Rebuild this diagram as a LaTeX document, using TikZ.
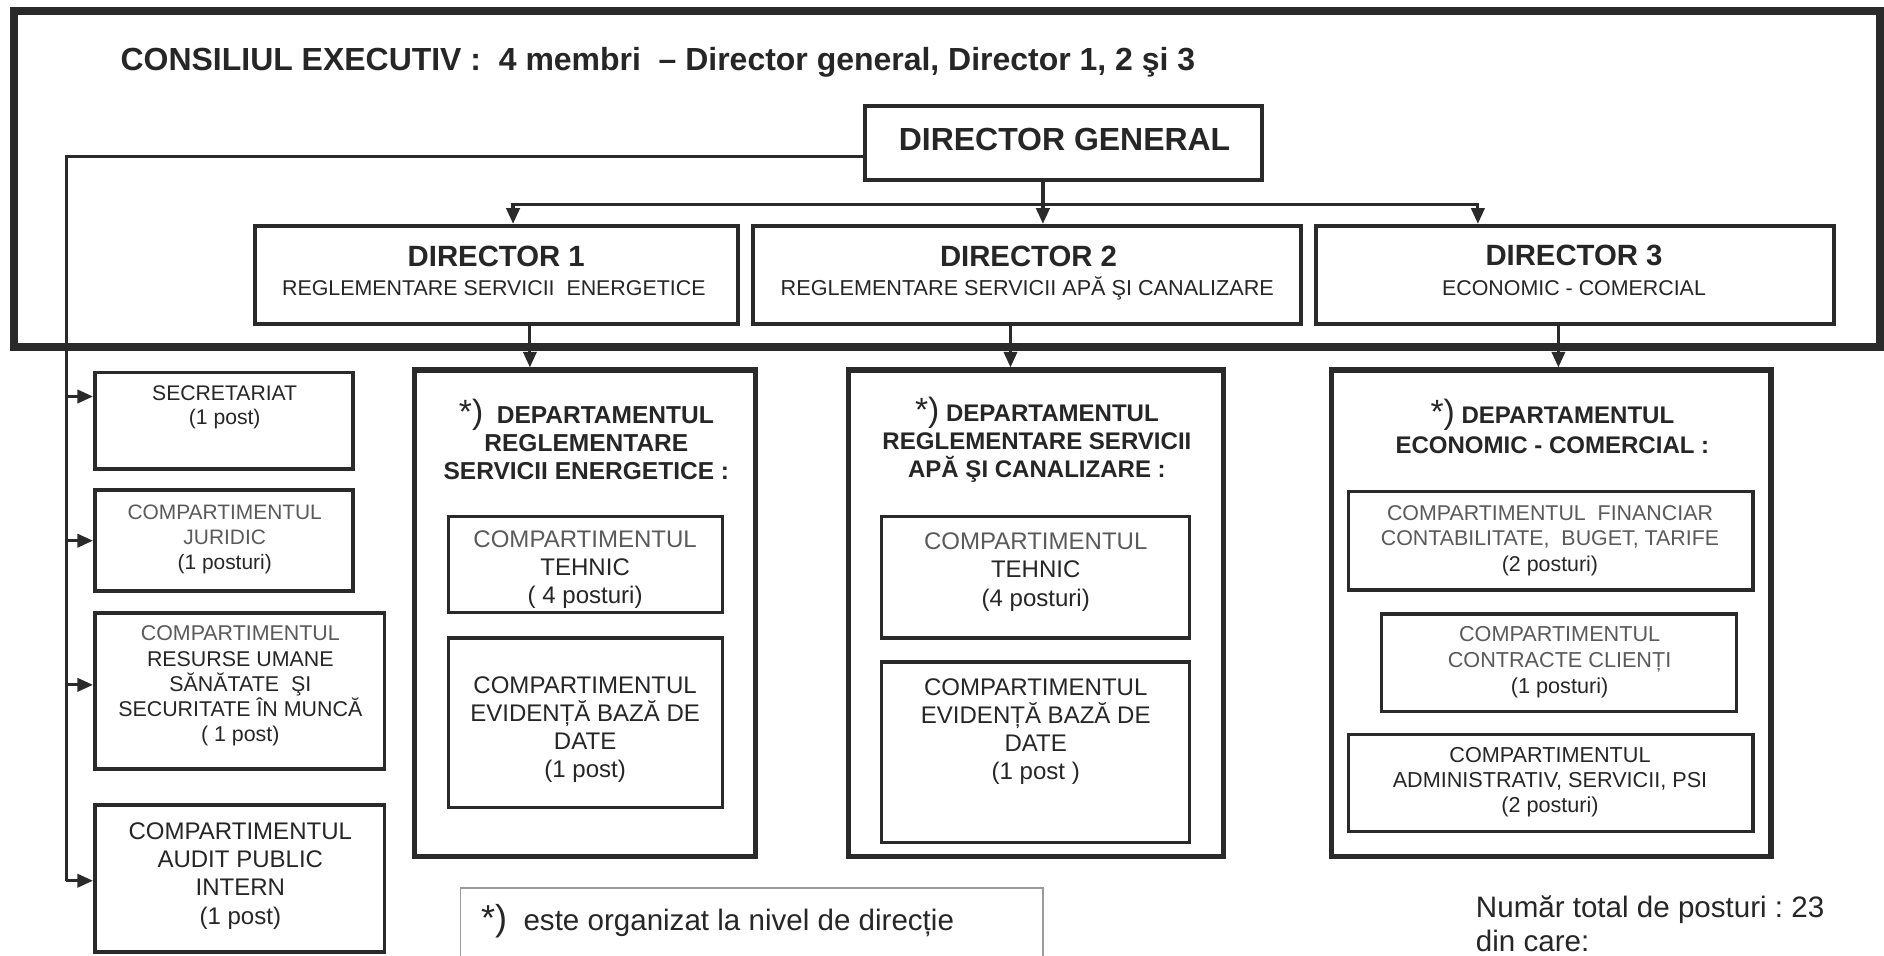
\documentclass[tikz,border=0pt]{standalone}
\usepackage{fontspec}
\setmainfont{Liberation Sans}
\usetikzlibrary{arrows.meta,fit}
\definecolor{ink}{HTML}{262626}
\definecolor{soft}{HTML}{5A5A5A}
\definecolor{lineink}{HTML}{2A2A2A}
\definecolor{notegray}{HTML}{9A9A9A}
\newcommand{\fsz}[2]{\fontsize{#1}{#2}\selectfont}
\newcommand{\starmark}{{\fsz{14}{12}\mdseries *)}}
\frenchspacing
\begin{document}
\begin{tikzpicture}[x=0.5pt,y=-0.5pt,
  boxbase/.style={draw=lineink, inner sep=0pt, rectangle},
  frame/.style={boxbase, line width=3.3pt},
  dgbox/.style={boxbase, line width=1.7pt},
  dirbox/.style={boxbase, line width=1.7pt},
  deptbox/.style={boxbase, line width=2.2pt},
  subbox/.style={boxbase, line width=1.3pt},
  leftbox/.style={boxbase, line width=1.6pt},
  notebox/.style={boxbase, draw=notegray, line width=0.5pt},
  txt/.style={text=ink, align=center, inner sep=0pt},
  conn/.style={draw=lineink, line width=1.3pt},
  arr/.style={conn, -{Triangle[length=6.5pt,width=5.5pt]}}
]
\useasboundingbox (0,0) rectangle (1568,795);
\fill[white] (0,0) rectangle (1568,795);

% outer frame
\node[frame, fit={(12,9) (1565,289)}] (council) {};
\node[txt, anchor=west, font=\bfseries\fsz{13.3}{15}] (title) at (100,52)
  {CONSILIUL EXECUTIV :\ \ 4 membri\ \ -- Director general, Director 1, 2 şi 3};

% director general
\node[dgbox, fit={(720,88) (1050,150)}] (dg) {};
\node[txt, font=\bfseries\fsz{13.3}{15}] (dgt) at (886,116) {DIRECTOR GENERAL};

% directors
\node[dirbox, fit={(212,188) (614,270)}] (d1) {};
\node[dirbox, fit={(627,188) (1083,270)}] (d2) {};
\node[dirbox, fit={(1095,188) (1526,270)}] (d3) {};
\node[txt, font=\bfseries\fsz{12.2}{14}] (d1t) at (413,213) {DIRECTOR 1};
\node[txt, font=\fsz{8.9}{10}] (d1s) at (411,240) {REGLEMENTARE SERVICII\ \ ENERGETICE};
\node[txt, font=\bfseries\fsz{12.2}{14}] (d2t) at (856,213) {DIRECTOR 2};
\node[txt, font=\fsz{9}{10}] (d2s) at (855,240) {REGLEMENTARE SERVICII APĂ ŞI CANALIZARE};
\node[txt, font=\bfseries\fsz{12.2}{14}] (d3t) at (1310,213) {DIRECTOR 3};
\node[txt, font=\fsz{8.9}{10}] (d3s) at (1310,240) {ECONOMIC - COMERCIAL};

% departments
\node[deptbox, fit={(345,308) (629,713)}] (dep1) {};
\node[deptbox, fit={(706,308) (1018,713)}] (dep2) {};
\node[deptbox, fit={(1108,308) (1474,713)}] (dep3) {};

\node[txt, font=\bfseries\fsz{10.2}{11.7}] (dep1h) at (488,366)
  {\starmark\ \ DEPARTAMENTUL\\REGLEMENTARE\\SERVICII ENERGETICE :};
\node[txt, font=\bfseries\fsz{10}{11.7}] (dep2h) at (863,366)
  {\starmark\ DEPARTAMENTUL\\REGLEMENTARE SERVICII\\APĂ ŞI CANALIZARE :};
\node[txt, font=\bfseries\fsz{10}{12.3}] (dep3h) at (1292,355)
  {\starmark\ DEPARTAMENTUL\\ECONOMIC - COMERCIAL :};

% department 1 compartments
\node[txt, font=\fsz{10}{11.6}] (c11t) at (487,474)
  {\textcolor{soft}{COMPARTIMENTUL}\\TEHNIC\\( 4 posturi)};
\node[subbox, fit={(373,430) (601,510)}] (c11) {};
\node[subbox, fit={(373,531) (601,672)}] (c12) {};
\node[txt, font=\fsz{10}{11.6}] (c12t) at (487,607)
  {COMPARTIMENTUL\\EVIDENȚĂ BAZĂ DE\\DATE\\(1 post)};

% department 2 compartments
\node[subbox, fit={(734,430) (990,531)}] (c21) {};
\node[txt, font=\fsz{10}{11.8}] (c21t) at (862,476)
  {\textcolor{soft}{COMPARTIMENTUL}\\TEHNIC\\(4 posturi)};
\node[subbox, fit={(734,551) (990,701)}] (c22) {};
\node[txt, font=\fsz{10}{11.6}] (c22t) at (862,609)
  {COMPARTIMENTUL\\EVIDENȚĂ BAZĂ DE\\DATE\\(1 post )};

% department 3 compartments
\node[subbox, fit={(1122,409) (1459,491)}] (c31) {};
\node[txt, text=soft, font=\fsz{8.9}{10.7}] (c31t) at (1290,450)
  {COMPARTIMENTUL\ \ FINANCIAR\\CONTABILITATE,\ \ BUGET, TARIFE\\\textcolor{ink}{(2 posturi)}};
\node[subbox, fit={(1150,511) (1445,592)}] (c32) {};
\node[txt, text=soft, font=\fsz{9}{10.7}] (c32t) at (1298,551)
  {COMPARTIMENTUL\\CONTRACTE CLIENȚI\\\textcolor{ink}{(1 posturi)}};
\node[subbox, fit={(1122,611) (1459,692)}] (c33) {};
\node[txt, font=\fsz{9}{10.4}] (c33t) at (1290,651)
  {COMPARTIMENTUL\\ADMINISTRATIV, SERVICII, PSI\\(2 posturi)};

% left column
\node[leftbox, fit={(79,310) (294,390)}] (sec) {};
\node[txt, font=\fsz{8.8}{10.2}] (sect) at (187,339) {SECRETARIAT\\(1 post)};
\node[leftbox, fit={(79,408) (294,492)}] (jur) {};
\node[txt, font=\fsz{8.7}{10.5}] (jurt) at (187,449)
  {\textcolor{soft}{COMPARTIMENTUL}\\\textcolor{soft}{JURIDIC}\\(1 posturi)};
\node[leftbox, fit={(79,510) (320,640)}] (hr) {};
\node[txt, font=\fsz{8.9}{10.5}] (hrt) at (200,571)
  {\textcolor{soft}{COMPARTIMENTUL}\\RESURSE UMANE\\SĂNĂTATE\ \ ŞI\\SECURITATE ÎN MUNCĂ\\( 1 post)};
\node[leftbox, fit={(79,670) (320,792)}] (aud) {};
\node[txt, font=\fsz{10}{11.8}] (audt) at (200,729)
  {COMPARTIMENTUL\\AUDIT PUBLIC\\INTERN\\(1 post)};

% connectors
\coordinate (t0) at (55,130);
\coordinate (t4) at (55,733);
\coordinate (a1) at (55,330);
\coordinate (a2) at (55,450);
\coordinate (a3) at (55,570);
\draw[conn] (dg.west |- t0) -- (t0) -- (t4);
\draw[arr] (a1) -- (sec.west |- a1);
\draw[arr] (a2) -- (jur.west |- a2);
\draw[arr] (a3) -- (hr.west |- a3);
\draw[arr] (t4) -- (aud.west |- t4);

\coordinate (hb) at (868,170);
\coordinate (hlft) at (427,170);
\coordinate (hrgt) at (1230,170);
\draw[arr] (dg.south -| hb) -- (d2.north -| hb);
\draw[arr] (hb) -- (hlft) -- (d1.north -| hlft);
\draw[arr] (hb) -- (hrgt) -- (d3.north -| hrgt);

\coordinate (v1) at (441,0);
\coordinate (v2) at (841,0);
\coordinate (v3) at (1297,0);
\draw[arr] (d1.south -| v1) -- (dep1.north -| v1);
\draw[arr] (d2.south -| v2) -- (dep2.north -| v2);
\draw[arr] (d3.south -| v3) -- (dep3.north -| v3);

% footnote
\node[notebox, fit={(383,739) (868,810)}] (note) {};
\node[txt, anchor=west, font=\fsz{12.3}{14}] (notet) at (400,767)
  {{\fsz{15}{14}*)}\ \ este organizat la nivel de direcție};

% total
\node[txt, anchor=west, align=left, font=\fsz{12.3}{14}] (total) at (1228,769)
  {Număr total de posturi : 23\\din care:};
\end{tikzpicture}
\end{document}
